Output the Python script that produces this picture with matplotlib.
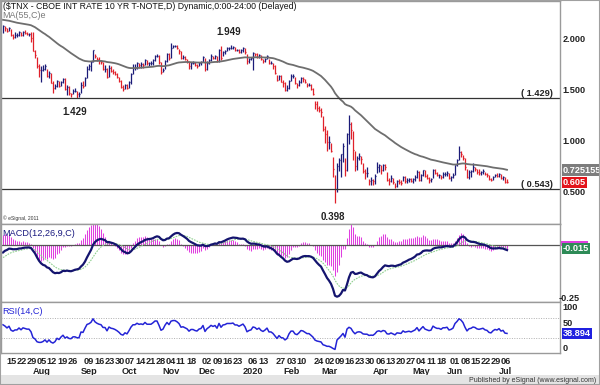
import numpy as np
import pandas as pd
import matplotlib
matplotlib.use('Agg')
import matplotlib.pyplot as plt
from matplotlib.transforms import blended_transform_factory as blend

plt.rcParams['font.family'] = ['Liberation Sans', 'DejaVu Sans']

# closes before the first visible bar (mid Apr - Jul 10 2019), only to start the averages
warmup_close = [2.55, 2.59, 2.59, 2.56, 2.57, 2.58, 2.53, 2.53, 2.51, 2.53, 2.54, 2.50,
                2.51, 2.46, 2.54, 2.53, 2.50, 2.47, 2.45, 2.47, 2.45, 2.40, 2.41, 2.37,
                2.39, 2.41, 2.43, 2.38, 2.32, 2.32, 2.26, 2.26, 2.21, 2.13,
                2.07, 2.07, 2.12, 2.13, 2.08, 2.14, 2.14, 2.12, 2.09, 2.09, 2.09, 2.06,
                2.03, 2.02, 2.05, 2.00, 2.05, 2.01, 2.01, 2.00,
                2.03, 1.98, 1.95, 2.04, 2.05, 2.06, 2.07]

# daily bars, Jul 11 2019 - Jul 10 2020
close = [2.14, 2.12, 2.09, 2.12, 2.05, 2.03, 2.05, 2.05, 2.08, 2.05, 2.08, 2.07, 2.06, 2.06, 2.02,
         1.89, 1.85, 1.74, 1.71, 1.71, 1.72, 1.74, 1.65, 1.68, 1.58, 1.53, 1.55, 1.60, 1.55, 1.59,
         1.62, 1.52, 1.54, 1.48, 1.47, 1.50, 1.50,
         1.47, 1.47, 1.56, 1.55, 1.63, 1.72, 1.74, 1.78, 1.90, 1.84, 1.81, 1.79, 1.78, 1.72, 1.72,
         1.64, 1.73, 1.70, 1.69, 1.67,
         1.64, 1.60, 1.54, 1.52, 1.56, 1.53, 1.59, 1.67, 1.73, 1.73, 1.77, 1.75, 1.76, 1.75, 1.80,
         1.77, 1.77, 1.77, 1.80, 1.84, 1.84, 1.78, 1.69,
         1.71, 1.79, 1.86, 1.82, 1.92, 1.94, 1.94, 1.92, 1.89, 1.82, 1.83, 1.81, 1.79, 1.74, 1.77,
         1.77, 1.75, 1.74, 1.77, 1.78,
         1.83, 1.72, 1.77, 1.80, 1.84, 1.82, 1.84, 1.79, 1.90, 1.82, 1.88, 1.89, 1.92, 1.92, 1.92,
         1.93, 1.90, 1.90, 1.88, 1.90, 1.92,
         1.88, 1.79, 1.81, 1.82, 1.87, 1.86, 1.83, 1.85, 1.81, 1.79, 1.81, 1.84, 1.77, 1.77, 1.74,
         1.68, 1.61, 1.65, 1.59, 1.58, 1.51,
         1.53, 1.60, 1.65, 1.65, 1.58, 1.56, 1.59, 1.63, 1.62, 1.59, 1.56, 1.56, 1.52, 1.47, 1.37,
         1.33, 1.31, 1.29, 1.13,
         1.08, 1.00, 1.00, 0.91, 0.74, 0.54, 0.76, 0.82, 0.88, 0.96, 0.73, 1.08, 1.18, 1.12, 0.92,
         0.76, 0.84, 0.86, 0.83, 0.72, 0.70, 0.70,
         0.62, 0.63, 0.62, 0.67, 0.75, 0.77, 0.73, 0.77, 0.75, 0.63, 0.62, 0.65, 0.61, 0.57, 0.62,
         0.61, 0.60, 0.66, 0.62, 0.63, 0.64,
         0.62, 0.64, 0.66, 0.71, 0.63, 0.68, 0.73, 0.67, 0.65, 0.63, 0.64, 0.73, 0.70, 0.68, 0.68,
         0.66, 0.69, 0.69, 0.70, 0.65,
         0.66, 0.68, 0.77, 0.82, 0.90, 0.88, 0.84, 0.75, 0.66, 0.71, 0.72, 0.75, 0.74, 0.71, 0.70,
         0.71, 0.72, 0.69, 0.68, 0.64, 0.63, 0.66,
         0.68, 0.67, 0.69, 0.65, 0.66, 0.61, 0.605]

high = [2.15, 2.14, 2.12, 2.13, 2.11, 2.06, 2.08, 2.07, 2.09, 2.08, 2.09, 2.10, 2.08, 2.07, 2.08,
        2.08, 1.90, 1.83, 1.76, 1.74, 1.75, 1.76, 1.72, 1.70, 1.68, 1.60, 1.57, 1.61, 1.60, 1.60,
        1.63, 1.63, 1.56, 1.55, 1.48, 1.52, 1.53,
        1.50, 1.49, 1.59, 1.60, 1.64, 1.74, 1.76, 1.79, 1.90, 1.86, 1.83, 1.83, 1.80, 1.78, 1.75,
        1.73, 1.75, 1.74, 1.72, 1.70,
        1.68, 1.64, 1.61, 1.56, 1.57, 1.57, 1.60, 1.68, 1.76, 1.76, 1.78, 1.77, 1.78, 1.77, 1.81,
        1.80, 1.78, 1.79, 1.81, 1.85, 1.86, 1.85, 1.78,
        1.73, 1.80, 1.87, 1.87, 1.97, 1.95, 1.95, 1.95, 1.91, 1.89, 1.85, 1.84, 1.81, 1.79, 1.78,
        1.79, 1.78, 1.76, 1.78, 1.79,
        1.84, 1.82, 1.79, 1.81, 1.86, 1.84, 1.85, 1.84, 1.91, 1.94, 1.89, 1.90, 1.93, 1.93, 1.949,
        1.94, 1.93, 1.91, 1.91, 1.91, 1.93,
        1.92, 1.86, 1.82, 1.83, 1.88, 1.87, 1.87, 1.86, 1.85, 1.81, 1.82, 1.85, 1.81, 1.79, 1.77,
        1.75, 1.66, 1.66, 1.66, 1.61, 1.59,
        1.56, 1.61, 1.67, 1.67, 1.64, 1.58, 1.61, 1.64, 1.64, 1.62, 1.58, 1.58, 1.57, 1.53, 1.40,
        1.40, 1.35, 1.33, 1.25,
        1.16, 1.12, 1.06, 0.99, 0.85, 0.68, 0.79, 0.84, 0.88, 0.99, 0.84, 1.09, 1.26, 1.20, 1.11,
        0.91, 0.86, 0.89, 0.86, 0.79, 0.74, 0.75,
        0.64, 0.66, 0.64, 0.69, 0.80, 0.78, 0.77, 0.78, 0.78, 0.71, 0.65, 0.68, 0.65, 0.60, 0.63,
        0.64, 0.63, 0.67, 0.67, 0.65, 0.65,
        0.65, 0.65, 0.68, 0.73, 0.72, 0.69, 0.73, 0.73, 0.69, 0.66, 0.65, 0.74, 0.74, 0.71, 0.69,
        0.68, 0.71, 0.71, 0.72, 0.70,
        0.67, 0.70, 0.77, 0.83, 0.956, 0.91, 0.87, 0.84, 0.74, 0.73, 0.73, 0.79, 0.75, 0.74, 0.74,
        0.72, 0.74, 0.71, 0.70, 0.68, 0.65, 0.67,
        0.69, 0.70, 0.70, 0.69, 0.67, 0.66, 0.64]

low = [2.07, 2.09, 2.08, 2.09, 2.04, 2.01, 2.02, 2.03, 2.04, 2.04, 2.04, 2.06, 2.05, 2.04, 1.98,
       1.89, 1.82, 1.73, 1.64, 1.59, 1.70, 1.71, 1.64, 1.63, 1.58, 1.48, 1.52, 1.54, 1.54, 1.55,
       1.58, 1.51, 1.46, 1.46, 1.44, 1.47, 1.49,
       1.429, 1.44, 1.48, 1.53, 1.55, 1.63, 1.71, 1.70, 1.78, 1.82, 1.79, 1.76, 1.76, 1.71, 1.69,
       1.63, 1.64, 1.69, 1.67, 1.66,
       1.63, 1.59, 1.53, 1.50, 1.52, 1.52, 1.53, 1.57, 1.67, 1.71, 1.72, 1.73, 1.73, 1.73, 1.75,
       1.75, 1.74, 1.75, 1.75, 1.79, 1.83, 1.76, 1.67,
       1.69, 1.72, 1.78, 1.80, 1.82, 1.92, 1.93, 1.91, 1.86, 1.81, 1.81, 1.80, 1.77, 1.72, 1.72,
       1.76, 1.74, 1.73, 1.74, 1.75,
       1.78, 1.70, 1.71, 1.76, 1.79, 1.81, 1.81, 1.78, 1.78, 1.80, 1.84, 1.86, 1.89, 1.90, 1.91,
       1.91, 1.89, 1.89, 1.87, 1.87, 1.88,
       1.86, 1.76, 1.77, 1.80, 1.71, 1.84, 1.82, 1.82, 1.80, 1.77, 1.78, 1.81, 1.76, 1.76, 1.72,
       1.67, 1.60, 1.61, 1.59, 1.54, 1.50,
       1.50, 1.52, 1.60, 1.63, 1.57, 1.53, 1.55, 1.58, 1.59, 1.58, 1.54, 1.55, 1.51, 1.46, 1.32,
       1.30, 1.29, 1.24, 1.11,
       0.99, 0.91, 0.93, 0.90, 0.66, 0.398, 0.51, 0.72, 0.66, 0.80, 0.67, 0.72, 0.98, 1.03, 0.82,
       0.72, 0.73, 0.82, 0.78, 0.70, 0.64, 0.66,
       0.58, 0.58, 0.58, 0.59, 0.70, 0.71, 0.69, 0.72, 0.73, 0.62, 0.58, 0.61, 0.59, 0.55, 0.56,
       0.59, 0.58, 0.62, 0.60, 0.60, 0.61,
       0.61, 0.60, 0.62, 0.65, 0.62, 0.62, 0.67, 0.66, 0.64, 0.60, 0.61, 0.65, 0.69, 0.67, 0.65,
       0.64, 0.65, 0.67, 0.67, 0.64,
       0.62, 0.65, 0.68, 0.76, 0.82, 0.85, 0.82, 0.73, 0.65, 0.64, 0.66, 0.71, 0.72, 0.69, 0.68,
       0.68, 0.69, 0.68, 0.66, 0.63, 0.62, 0.63,
       0.66, 0.66, 0.66, 0.64, 0.63, 0.60, 0.60]

holidays = ['2019-09-02', '2019-11-28', '2019-12-25', '2020-01-01', '2020-01-20',
            '2020-02-17', '2020-04-10', '2020-05-25', '2020-07-03']
dates = pd.bdate_range('2019-07-11', '2020-07-10', freq='C', holidays=holidays)

day_ticks = ['2019-07-15', '2019-07-22', '2019-07-29', '2019-08-05', '2019-08-12', '2019-08-19',
             '2019-08-26', '2019-09-09', '2019-09-16', '2019-09-23', '2019-09-30', '2019-10-07',
             '2019-10-14', '2019-10-21', '2019-10-28', '2019-11-04', '2019-11-11', '2019-11-18',
             '2019-12-02', '2019-12-09', '2019-12-16', '2019-12-23', '2020-01-06', '2020-01-13',
             '2020-01-27', '2020-02-03', '2020-02-10', '2020-02-24', '2020-03-02', '2020-03-09',
             '2020-03-16', '2020-03-23', '2020-03-30', '2020-04-06', '2020-04-13', '2020-04-20',
             '2020-04-27', '2020-05-04', '2020-05-11', '2020-05-18', '2020-06-01', '2020-06-08',
             '2020-06-15', '2020-06-22', '2020-06-29', '2020-07-06']
month_names = ['Aug', 'Sep', 'Oct', 'Nov', 'Dec', '2020', 'Feb', 'Mar', 'Apr', 'May', 'Jun', 'Jul']
month_at = ['2019-08-05', '2019-09-09', '2019-10-07', '2019-11-04', '2019-12-02', '2020-01-06',
            '2020-02-03', '2020-03-02', '2020-04-06', '2020-05-04', '2020-06-01', '2020-07-06']

support = [1.429, 0.543]
swing_dates = ['2019-09-03', '2019-12-20', '2020-03-09']
swing_kind = ['low', 'high', 'low']
last_ma = 0.725155
last_rsi = 38.894
last_macd = -0.015

# ---- indicators
n = len(close)
s = pd.Series(warmup_close + close)
ma55 = s.ewm(span=55, adjust=False).mean().values[-n:]
macd_all = s.ewm(span=12, adjust=False).mean() - s.ewm(span=26, adjust=False).mean()
sig_all = macd_all.ewm(span=9, adjust=False).mean()
macd = macd_all.values[-n:]
sig = sig_all.values[-n:]
hist = (macd - sig) * 2.0   # histogram drawn at double scale, as on the chart
d = s.diff()
up = d.clip(lower=0).ewm(alpha=1/14, adjust=False).mean()
dn = (-d.clip(upper=0)).ewm(alpha=1/14, adjust=False).mean()
rsi = (100 - 100/(1 + up/dn)).values[-n:]

x = np.arange(n) + 2
close_a = np.array(close)
prev = np.concatenate([[warmup_close[-1]], close_a[:-1]])
bar_col = np.where(close_a >= prev, '#1b1b78', '#e0202a')

def pos(day):
    return dates.get_loc(pd.Timestamp(day)) + 2

# ---- layout (pixel based)
W, H = 600, 385
fig = plt.figure(figsize=(6, 3.85), dpi=100)
fig.patch.set_facecolor('white')

def box(x0, y0, x1, y1):
    return [x0/W, 1 - y1/H, (x1 - x0)/W, (y1 - y0)/H]

ax_p = fig.add_axes(box(1, 1, 560, 224))
ax_m = fig.add_axes(box(1, 224, 560, 302), sharex=ax_p)
ax_r = fig.add_axes(box(1, 302, 560, 353), sharex=ax_p)

for ax in (ax_p, ax_m, ax_r):
    ax.set_xticks([])
    ax.set_yticks([])
    for sp in ax.spines.values():
        sp.set_color('#9a9a9a')
        sp.set_linewidth(1)

ax_p.set_xlim(1, 280.5)
ax_p.set_ylim(0.196, 2.382)
ax_m.set_ylim(-0.2639, 0.0972)
ax_r.set_ylim(0, 102)

lab = dict(fontsize=6.6, fontweight='bold', color='#222222')

# ---- price panel
ax_p.vlines(x, low, high, colors=bar_col, lw=0.9)
ax_p.hlines(close, x, x + 0.5, colors=bar_col, lw=0.9)
ax_p.plot(x, ma55, color='#6e6e6e', lw=1.3)
for lv in support:
    ax_p.axhline(lv, color='#333333', lw=0.9)
    ax_p.text(277, lv, '( %.3f)' % lv, ha='right', va='bottom', **lab)

hi_a, lo_a = np.array(high), np.array(low)
for dstr, kind in zip(swing_dates, swing_kind):
    i = pos(dstr)
    v = hi_a[i - 2] if kind == 'high' else lo_a[i - 2]
    off = 6 if kind == 'high' else -6
    ax_p.annotate('%.3f' % v, xy=(i - 1, v), xytext=(0, off), textcoords='offset points',
                  ha='center', va='bottom' if kind == 'high' else 'top',
                  fontsize=7, fontweight='bold', color='#222222')

ax_p.text(0.003, 0.995, '($TNX - CBOE INT RATE 10 YR T-NOTE,D) Dynamic,0:00-24:00 (Delayed)',
          transform=ax_p.transAxes, ha='left', va='top', fontsize=6.3, color='#111111')
ax_p.text(0.003, 0.955, 'MA(55,C)e', transform=ax_p.transAxes, ha='left', va='top',
          fontsize=6.5, color='#7a7a7a')
ax_p.text(0.003, 0.012, '\u00a9 eSignal, 2011', transform=ax_p.transAxes, ha='left',
          va='bottom', fontsize=3.6, color='#333333')

tr = blend(ax_p.transAxes, ax_p.transData)
for v in [2.0, 1.5, 1.0, 0.5]:
    ax_p.text(1.005, v, '%.3f' % v, transform=tr, ha='left', va='center', clip_on=False, **lab)
ax_p.text(1.005, last_ma, '%.6f' % last_ma, transform=tr, ha='left', va='center', fontsize=6.6,
          fontweight='bold', color='white', clip_on=False,
          bbox=dict(boxstyle='square,pad=0.12', fc='#7d7d7d', ec='none'))
ax_p.text(1.005, close[-1], '%.3f' % close[-1], transform=tr, ha='left', va='center',
          fontsize=6.6, fontweight='bold', color='white', clip_on=False,
          bbox=dict(boxstyle='square,pad=0.12', fc='#e3141b', ec='none'))

# ---- MACD panel
ax_m.vlines(x, 0, hist, colors='#e03ee0', lw=0.75)
ax_m.axhline(0, color='#555555', lw=0.9)
ax_m.plot(x, sig, color='#8fcf8f', lw=0.8, ls=(0, (1.5, 1)))
ax_m.plot(x, macd, color='#14146e', lw=1.6)
ax_m.text(0.003, 0.93, 'MACD(12,26,9,C)', transform=ax_m.transAxes, ha='left', va='top',
          fontsize=6.6, color='#1a1a80')
trm = blend(ax_m.transAxes, ax_m.transData)
ax_m.text(0.998, -0.25, '-0.25', transform=trm, ha='left', va='center', clip_on=False, **lab)
ax_m.add_patch(plt.Rectangle((1.002, -0.004), 0.048, 0.022, transform=trm, fc='#e03ee0',
                             ec='none', clip_on=False))
ax_m.text(1.005, last_macd, '%.3f' % last_macd, transform=trm, ha='left', va='center',
          fontsize=6.6, fontweight='bold', color='white', clip_on=False,
          bbox=dict(boxstyle='square,pad=0.12', fc='#2e8b57', ec='none'))

# ---- RSI panel
ax_r.axhline(70, color='#b0b0b0', lw=0.7, ls=(0, (1, 1.5)))
ax_r.axhline(30, color='#b0b0b0', lw=0.7, ls=(0, (1, 1.5)))
ax_r.plot(x, rsi, color='#2424d6', lw=1.1)
ax_r.text(0.003, 0.9, 'RSI(14,C)', transform=ax_r.transAxes, ha='left', va='top',
          fontsize=6.6, color='#2424d6')
trr = blend(ax_r.transAxes, ax_r.transData)
ax_r.text(1.005, 100, '100', transform=trr, ha='left', va='top', clip_on=False, **lab)
ax_r.text(1.005, 50, '50', transform=trr, ha='left', va='bottom', clip_on=False, **lab)
ax_r.text(1.005, 0, '0', transform=trr, ha='left', va='bottom', clip_on=False, **lab)
ax_r.text(1.005, last_rsi, '%.3f' % last_rsi, transform=trr, ha='left', va='center',
          fontsize=6.6, fontweight='bold', color='white', clip_on=False,
          bbox=dict(boxstyle='square,pad=0.12', fc='#2020e0', ec='none'))

# ---- date labels (a label never starts closer than 5 bars after the previous one)
trd = blend(ax_r.transData, ax_r.transAxes)
last = -99
label_x = {}
for dstr in day_ticks:
    px = max(pos(dstr) - 0.5, last + 5.1)
    last = px
    label_x[dstr] = px
    ax_r.text(px, -0.07, pd.Timestamp(dstr).strftime('%d'), transform=trd,
              ha='left', va='top', clip_on=False, **lab)
for name, dstr in zip(month_names, month_at):
    ax_r.text(label_x[dstr] + 2.5, -0.28, name, transform=trd, ha='center', va='top',
              clip_on=False, **lab)

# ---- frame and footer
fig.patches.append(plt.Rectangle((0, 0), 1, 10/H, transform=fig.transFigure,
                                 fc='#e4e4e4', ec='none'))
fig.patches.append(plt.Rectangle((0, 0), 1, 1, transform=fig.transFigure,
                                 fill=False, ec='#a0a0a0', lw=1.5))
fig.text(0.993, 4.5/H, 'Published by eSignal (www.esignal.com)', ha='right', va='center',
         fontsize=5, color='#333333')

fig.savefig('out.png', dpi=100)
